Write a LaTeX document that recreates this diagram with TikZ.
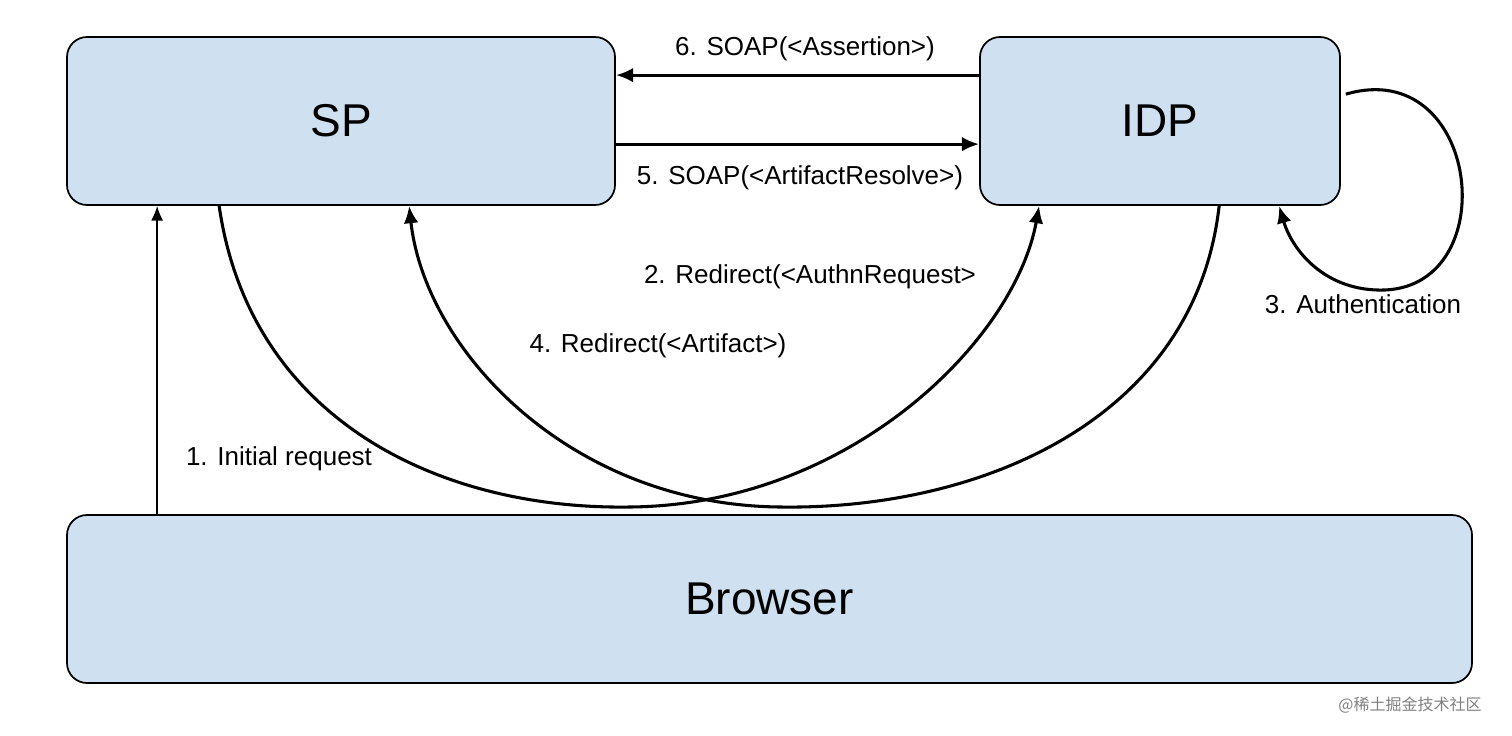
\documentclass[tikz,border=0pt]{standalone}
\usepackage{fontspec}
\setmainfont{Liberation Sans}
\newfontfamily\cjk{Noto Sans CJK SC}
\usetikzlibrary{arrows.meta,calc}
\definecolor{boxfill}{HTML}{CFE0F1}
\begin{document}
\begin{tikzpicture}[x=0.75pt,y=-0.75pt,
  box/.style={draw=black,line width=1.3pt,fill=boxfill,rounded corners=15pt,font=\fontsize{34.5}{40}\selectfont},
  lab/.style={font=\fontsize{19.5}{23}\selectfont,inner sep=0pt},
  thick arrow/.style={line width=2.3pt,-{Latex[length=13pt,width=11pt]}},
  thin arrow/.style={line width=1.2pt,-{Latex[length=11pt,width=9pt]}}]
\useasboundingbox (0,0) rectangle (1512,735);
\node[box,minimum width=548*0.75pt,minimum height=168*0.75pt] (sp) at (341,121) {SP};
\node[box,minimum width=360*0.75pt,minimum height=168*0.75pt] (idp) at (1160,121) {IDP};
\node[box,minimum width=1405*0.75pt,minimum height=168*0.75pt] (br) at (769.5,599) {Browser};
% 6 and 5
\draw[thick arrow] ($(idp.north west)+(0,39)$) -- ($(sp.north east)+(0,39)$);
\node[lab] (l6) at (805,49) {6. SOAP(<Assertion>)};
\draw[thick arrow] ($(sp.north east)+(0,108)$) -- ($(idp.north west)+(0,108)$);
\node[lab] (l5) at (800,178) {5. SOAP(<ArtifactResolve>)};
% 1
\draw[thin arrow] ($(br.north west)+(91,0)$) -- ($(sp.south west)+(91,0)$);
\node[lab] (l1) at (279,459) {1. Initial request};
% 2
\draw[thick arrow] ($(sp.south west)+(153,0)$) .. controls (250,420) and (440,510) .. (630,507) .. controls (850,505) and (1015,340) .. ($(idp.south west)+(60,0)$);
\node[lab] (l2) at (810,277) {2. Redirect(<AuthnRequest>};
% 4
\draw[thick arrow] ($(idp.south west)+(240,0)$) .. controls (1195,420) and (980,510) .. (780,507) .. controls (570,505) and (425,350) .. ($(sp.south west)+(343,0)$);
\node[lab] (l4) at (658,346) {4. Redirect(<Artifact>)};
% 3
\draw[thick arrow] ($(idp.north east)+(5,58)$) .. controls (1480,55) and (1505,285) .. (1385,290) .. controls (1325,292) and (1292,250) .. ($(idp.south west)+(300,0)$);
\node[lab] (l3) at (1363,304) {3. Authentication};
\node[font=\cjk\fontsize{12}{14}\selectfont,text=gray,inner sep=0pt] (wm) at (1410,705) {@稀土掘金技术社区};
\end{tikzpicture}
\end{document}
